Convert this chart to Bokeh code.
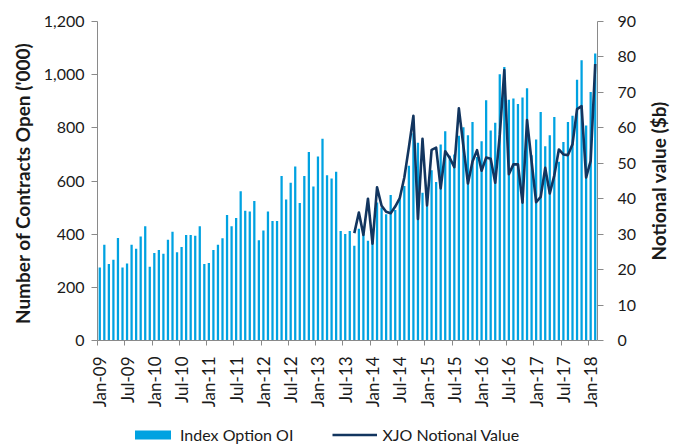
import math
from bokeh.plotting import figure
from bokeh.layouts import column, row
from bokeh.models import (Range1d, LinearAxis, FixedTicker, NumeralTickFormatter,
                          Legend, LegendItem, ColumnDataSource)
from bokeh.embed import file_html
from bokeh.resources import INLINE

# Index option open interest ('000 contracts), monthly Jan-09 .. Feb-18
oi = [275, 360, 288, 304, 386, 275, 290, 360, 345, 391, 430, 277,
      329, 340, 326, 379, 409, 332, 352, 397, 397, 394, 430, 288,
      292, 340, 360, 385, 472, 430, 461, 561, 488, 485, 525, 377,
      414, 485, 450, 450, 619, 530, 593, 655, 517, 619, 709, 579,
      692, 759, 622, 609, 635, 412, 401, 412, 356, 420, 400, 375,
      390, 519, 500, 475, 547, 491, 531, 581, 657, 780, 744, 556,
      506, 640, 596, 737, 787, 695, 700, 770, 802, 772, 822, 690,
      750, 904, 790, 819, 1002, 1029, 906, 910, 890, 914, 949, 697,
      756, 860, 731, 772, 841, 672, 747, 822, 845, 981, 1054, 809,
      935, 1080]

# XJO notional value ($b), monthly Sep-13 .. Feb-18
nv_start = 56
nv = [30.3, 36.1, 29.8, 40.0, 27.3, 43.2, 38.0, 36.3, 35.9, 37.8, 40.2, 46.0,
      54.5, 63.4, 34.3, 56.9, 38.1, 53.8, 54.4, 42.9, 53.4, 51.5, 48.9, 65.5,
      54.8, 44.3, 50.5, 53.7, 47.9, 51.6, 51.3, 44.5, 58.0, 76.3, 46.9, 49.7,
      49.7, 38.9, 62.2, 50.5, 39.0, 40.5, 48.7, 41.5, 46.6, 53.9, 52.5, 52.3,
      55.4, 65.3, 66.1, 46.0, 50.7, 78.0]

tick_labels = ["Jan-09", "Jul-09", "Jan-10", "Jul-10", "Jan-11", "Jul-11",
               "Jan-12", "Jul-12", "Jan-13", "Jul-13", "Jan-14", "Jul-14",
               "Jan-15", "Jul-15", "Jan-16", "Jul-16", "Jan-17", "Jul-17",
               "Jan-18"]
tick_step = 6

left_ticks = [0, 200, 400, 600, 800, 1000, 1200]
right_ticks = [0, 10, 20, 30, 40, 50, 60, 70, 80, 90]

FONT = "Lato"
AXIS_GREY = "#8a8a8a"
TEXT = "#1a1a1a"
BAR = "#00A2E1"
LINE = "#12355F"

n = len(oi)
bar_src = ColumnDataSource(dict(x=list(range(n)), oi=oi))
line_src = ColumnDataSource(dict(x=[nv_start + i for i in range(len(nv))], nv=nv))

MAIN_W = 639
p = figure(width=MAIN_W, height=420, x_range=Range1d(-0.5, n - 0.5),
           y_range=Range1d(0, 1200), output_backend="svg", toolbar_location=None,
           min_border_left=97, min_border_right=42, min_border_top=21,
           min_border_bottom=80)
p.extra_y_ranges = {"nv": Range1d(0, 90)}
p.outline_line_color = None
p.xgrid.visible = False
p.ygrid.visible = False
p.background_fill_color = "white"
p.border_fill_color = "white"

bars = p.vbar(x="x", top="oi", width=0.5, source=bar_src, fill_color=BAR,
              line_color=None)
line = p.line(x="x", y="nv", source=line_src, y_range_name="nv",
              line_color=LINE, line_width=2.6, line_join="round")

# x axis
major = [i * tick_step for i in range(len(tick_labels))]
xa = p.xaxis[0]
xa.ticker = FixedTicker(ticks=major, minor_ticks=[m - 0.5 for m in major])
xa.major_label_overrides = {m: lab for m, lab in zip(major, tick_labels)}
xa.major_label_orientation = math.pi / 2
xa.major_tick_out = 0
xa.major_tick_in = 0
xa.minor_tick_out = 5
xa.minor_tick_in = 0
xa.minor_tick_line_color = AXIS_GREY
xa.axis_line_color = AXIS_GREY
xa.major_label_standoff = 11
xa.major_label_text_font = FONT
xa.major_label_text_font_size = "17px"
xa.major_label_text_color = TEXT

# left axis
ya = p.yaxis[0]
ya.ticker = FixedTicker(ticks=left_ticks)
ya.formatter = NumeralTickFormatter(format="0,0")
ya.axis_label = "Number of  Contracts Open ('000)"
ya.axis_label_text_font = FONT
ya.axis_label_text_font_style = "bold"
ya.axis_label_text_font_size = "19px"
ya.axis_label_text_color = TEXT
ya.axis_label_standoff = 7
ya.major_label_text_font = FONT
ya.major_label_text_font_size = "16px"
ya.major_label_text_color = TEXT
ya.axis_line_color = AXIS_GREY
ya.major_tick_line_color = AXIS_GREY
ya.major_tick_out = 6
ya.major_tick_in = 0
ya.minor_tick_line_color = None
ya.major_label_standoff = 7

# right axis (ticks and numbers; its title is drawn in the side strip)
ra = LinearAxis(y_range_name="nv", ticker=FixedTicker(ticks=right_ticks))
ra.major_label_text_font = FONT
ra.major_label_text_font_size = "16px"
ra.major_label_text_color = TEXT
ra.axis_line_color = AXIS_GREY
ra.major_tick_line_color = AXIS_GREY
ra.major_tick_out = 6
ra.major_tick_in = 0
ra.minor_tick_line_color = None
ra.major_label_standoff = 14
p.add_layout(ra, "right")

# side strip carrying the right-hand title, read bottom to top
side = figure(width=34, height=420, x_range=Range1d(0, 1), y_range=Range1d(0, 1),
              output_backend="svg", toolbar_location=None,
              min_border_left=30, min_border_right=0, min_border_top=21,
              min_border_bottom=80)
side.xaxis.visible = False
side.grid.visible = False
side.outline_line_color = None
side.border_fill_color = "white"
sa = side.yaxis[0]
sa.ticker = FixedTicker(ticks=[])
sa.axis_label = "Notional value ($b)"
sa.axis_label_text_font = FONT
sa.axis_label_text_font_style = "bold"
sa.axis_label_text_font_size = "19px"
sa.axis_label_text_color = TEXT
sa.axis_label_standoff = 0
sa.axis_line_color = None
sa.major_tick_line_color = None
sa.minor_tick_line_color = None
sa.major_label_text_font_size = "0px"
sa.major_label_standoff = 0

# legend strip below the chart (view range holds no data, so only the key shows)
leg = figure(width=MAIN_W, height=24, x_range=Range1d(1000, 1001),
             y_range=Range1d(5000, 5001),
             output_backend="svg", toolbar_location=None, min_border=0)
leg.axis.visible = False
leg.grid.visible = False
leg.outline_line_color = None
leg.border_fill_color = "white"
leg_bar = leg.vbar(x="x", top="oi", width=0.5, source=bar_src, fill_color=BAR,
                   line_color=None)
leg_line = leg.line(x="x", y="nv", source=line_src, line_color=LINE, line_width=2.6)

legend = Legend(items=[LegendItem(label="Index Option OI", renderers=[leg_bar]),
                       LegendItem(label="XJO Notional Value", renderers=[leg_line])],
                orientation="horizontal", location=(33, 0))
legend.border_line_color = None
legend.background_fill_alpha = 0
legend.label_text_font = FONT
legend.label_text_font_size = "16px"
legend.label_text_color = TEXT
legend.glyph_width = 45
legend.glyph_height = 11
legend.label_standoff = 5
legend.spacing = 39
legend.padding = 2
legend.margin = 0
leg.add_layout(legend, "center")

page = row(column(p, leg, spacing=0), side, spacing=0)
open("out.html", "w").write(file_html(page, INLINE))
